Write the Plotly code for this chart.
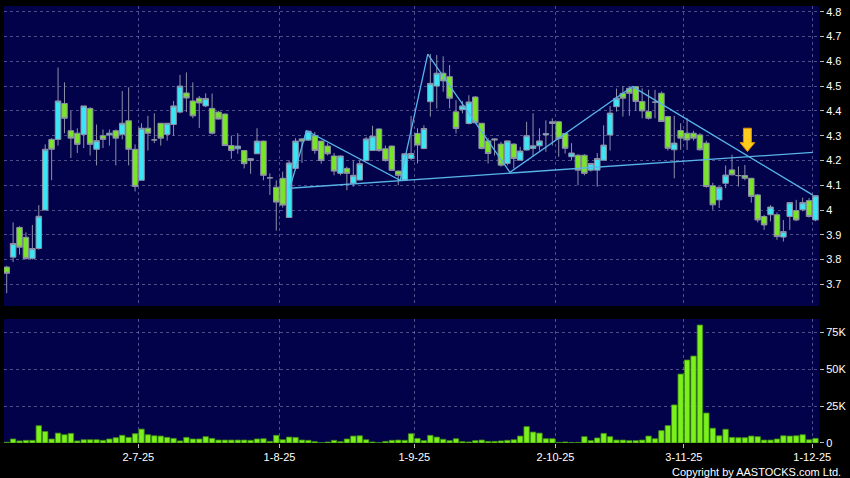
import plotly.graph_objects as go

# ---------------- data (trading-day index 0 = 2 Jun 2025) ----------------
opens = [3.77, 3.81, 3.93, 3.89, 3.805, 3.845, 4.00, 4.285, 4.285, 4.43,
         4.32, 4.31, 4.305, 4.41, 4.245, 4.30, 4.303, 4.32, 4.305, 4.36,
         4.245, 4.12, 4.33, 4.283, 4.35, 4.305, 4.345, 4.395, 4.472, 4.44,
         4.451, 4.42, 4.41, 4.395, 4.387, 4.26, 4.247, 4.24, 4.20, 4.227,
         4.278, 4.13, 4.092, 4.128, 3.97, 4.168, 4.287, 4.282, 4.30, 4.278,
         4.258, 4.218, 4.148, 4.168, 4.108, 4.121, 4.20, 4.24, 4.327, 4.247,
         4.258, 4.157, 4.121, 4.208, 4.309, 4.248, 4.437, 4.50, 4.552, 4.538,
         4.396, 4.405, 4.349, 4.456, 4.35, 4.279, 4.287, 4.266, 4.188, 4.266,
         4.201, 4.242, 4.248, 4.259, 4.303, 4.349, 4.356, 4.309, 4.215, 4.221,
         4.221, 4.161, 4.161, 4.201, 4.303, 4.417, 4.471, 4.491, 4.498, 4.438,
         4.397, 4.435, 4.471, 4.377, 4.243, 4.321, 4.31, 4.31, 4.303, 4.27,
         4.098, 4.041, 4.108, 4.162, 4.139, 4.139, 4.128, 4.061, 3.974, 3.981,
         3.981, 3.891, 3.974, 3.998, 4.001, 4.038, 3.96]
highs = [3.775, 3.95, 3.935, 3.91, 3.94, 4.02, 4.265, 4.29, 4.575, 4.515,
         4.40, 4.33, 4.42, 4.415, 4.345, 4.325, 4.325, 4.325, 4.48, 4.495,
         4.265, 4.35, 4.38, 4.39, 4.35, 4.35, 4.44, 4.545, 4.555, 4.515,
         4.46, 4.471, 4.47, 4.40, 4.39, 4.30, 4.31, 4.24, 4.21, 4.33,
         4.28, 4.148, 4.12, 4.155, 4.20, 4.29, 4.29, 4.32, 4.315, 4.28,
         4.27, 4.23, 4.22, 4.175, 4.20, 4.20, 4.295, 4.34, 4.33, 4.26,
         4.26, 4.16, 4.23, 4.38, 4.33, 4.342, 4.63, 4.625, 4.62, 4.585,
         4.443, 4.44, 4.463, 4.46, 4.35, 4.29, 4.29, 4.275, 4.28, 4.27,
         4.255, 4.356, 4.39, 4.33, 4.362, 4.37, 4.36, 4.31, 4.27, 4.225,
         4.225, 4.19, 4.23, 4.342, 4.42, 4.49, 4.50, 4.498, 4.50, 4.491,
         4.485, 4.485, 4.478, 4.38, 4.38, 4.35, 4.37, 4.32, 4.31, 4.28,
         4.11, 4.095, 4.18, 4.223, 4.176, 4.182, 4.13, 4.065, 3.98, 4.02,
         3.99, 3.96, 4.03, 4.041, 4.05, 4.048, 4.06]
lows = [3.665, 3.79, 3.82, 3.80, 3.80, 3.84, 4.00, 4.12, 4.26, 4.31,
        4.21, 4.23, 4.25, 4.22, 4.18, 4.25, 4.26, 4.18, 4.285, 4.18,
        4.075, 4.12, 4.24, 4.27, 4.26, 4.28, 4.30, 4.39, 4.395, 4.37,
        4.331, 4.415, 4.305, 4.365, 4.26, 4.207, 4.227, 4.168, 4.146, 4.227,
        4.12, 4.061, 3.917, 4.01, 3.97, 4.16, 4.19, 4.28, 4.227, 4.187,
        4.22, 4.14, 4.14, 4.08, 4.094, 4.12, 4.20, 4.24, 4.235, 4.195,
        4.16, 4.10, 4.12, 4.20, 4.188, 4.245, 4.377, 4.41, 4.477, 4.41,
        4.309, 4.39, 4.345, 4.35, 4.245, 4.188, 4.22, 4.175, 4.18, 4.168,
        4.20, 4.24, 4.215, 4.24, 4.235, 4.26, 4.215, 4.228, 4.20, 4.10,
        4.14, 4.155, 4.094, 4.20, 4.24, 4.397, 4.377, 4.38, 4.40, 4.37,
        4.365, 4.37, 4.355, 4.24, 4.128, 4.243, 4.243, 4.28, 4.24, 4.09,
        4.001, 4.008, 4.088, 4.14, 4.095, 4.12, 4.03, 3.95, 3.92, 3.954,
        3.88, 3.873, 3.92, 3.955, 3.995, 3.97, 3.955]
closes = [3.745, 3.865, 3.85, 3.805, 3.845, 3.975, 4.245, 4.245, 4.44, 4.37,
          4.29, 4.265, 4.42, 4.265, 4.28, 4.285, 4.31, 4.29, 4.35, 4.245,
          4.095, 4.33, 4.31, 4.283, 4.29, 4.35, 4.42, 4.50, 4.452, 4.38,
          4.432, 4.45, 4.31, 4.367, 4.26, 4.24, 4.258, 4.187, 4.207, 4.278,
          4.14, 4.13, 4.032, 4.02, 4.19, 4.278, 4.278, 4.318, 4.24, 4.20,
          4.227, 4.157, 4.218, 4.148, 4.14, 4.187, 4.287, 4.298, 4.24, 4.20,
          4.16, 4.14, 4.227, 4.228, 4.262, 4.329, 4.511, 4.552, 4.521, 4.451,
          4.329, 4.42, 4.436, 4.352, 4.248, 4.228, 4.283, 4.181, 4.279, 4.208,
          4.238, 4.30, 4.259, 4.279, 4.308, 4.356, 4.289, 4.249, 4.23, 4.161,
          4.148, 4.188, 4.208, 4.262, 4.391, 4.451, 4.451, 4.471, 4.438, 4.40,
          4.37, 4.435, 4.357, 4.249, 4.27, 4.29, 4.283, 4.29, 4.243, 4.095,
          4.021, 4.092, 4.141, 4.142, 4.139, 4.128, 4.055, 3.96, 3.94, 4.012,
          3.893, 3.913, 4.03, 3.96, 4.03, 3.974, 4.058]
volume_k = [0.5, 2.7, 1.4, 1.8, 1.8, 11.7, 7.8, 2.7, 6.7, 5.6,
            6.5, 1.4, 2.2, 2.2, 2.2, 1.8, 2.7, 3.6, 5.2, 3.8,
            6.3, 9.4, 5.6, 4.9, 4.7, 3.8, 3.1, 1.4, 3.8, 2.7,
            2.7, 4.3, 3.1, 2.0, 2.0, 2.0, 2.0, 2.0, 1.8, 2.7,
            2.9, 1.1, 5.2, 2.2, 4.0, 3.8, 2.0, 1.8, 0.9, 0.2,
            0.7, 1.8, 0.9, 2.7, 4.7, 4.9, 2.2, 0.7, 0.2, 1.1,
            1.8, 2.0, 1.8, 6.3, 3.1, 1.6, 5.2, 4.0, 2.5, 1.6,
            2.9, 0.9, 0.7, 1.6, 2.0, 1.1, 1.1, 1.4, 1.8, 2.2,
            4.7, 11.1, 7.4, 6.7, 2.9, 2.9, 0.4, 0.7, 0.4, 0.4,
            4.3, 1.6, 3.4, 6.5, 4.3, 2.0, 2.0, 1.6, 1.6, 2.0,
            4.7, 2.9, 8.4, 11.8, 25.8, 46.7, 56.2, 58.9, 79.9, 20.3,
            10.0, 4.9, 9.3, 3.8, 3.6, 3.6, 4.7, 4.3, 2.0, 2.0,
            2.7, 4.9, 4.7, 4.9, 5.6, 2.2, 3.1]
day_index = list(range(len(opens)))

date_tick_pos = [20.5, 42.5, 63.5, 85.5, 105.5, 125.5]
date_tick_labels = ["2-7-25", "1-8-25", "1-9-25", "2-10-25", "3-11-25", "1-12-25"]
price_ticks = [3.7, 3.8, 3.9, 4.0, 4.1, 4.2, 4.3, 4.4, 4.5, 4.6, 4.7, 4.8]
price_tick_labels = ["3.7", "3.8", "3.9", "4", "4.1", "4.2", "4.3", "4.4", "4.5", "4.6", "4.7", "4.8"]
vol_ticks = [0, 25, 50, 75]
vol_tick_labels = ["0", "25K", "50K", "75K"]

# drawn pattern (head & shoulders) anchor points: (day index, price)
neckline_x = [44.1, 125.6]
neckline_y = [4.088, 4.233]
pattern_x = [44.1, 46.7, 61.3, 65.6, 78.4, 97.5, 125.6]
pattern_y = [4.088, 4.32, 4.12, 4.629, 4.152, 4.498, 4.06]
arrow_x = 115.4
arrow_top, arrow_neck, arrow_tip = 4.330, 4.272, 4.236

# ---------------- styling ----------------
NAVY = "#02024a"
GRID = "rgba(140,140,190,0.55)"
CYAN = "#3ae6f4"
GREEN = "#7ae428"
WICK = "#8e90a8"
LINE = "#58b4e8"
FONT = "Arial, Liberation Sans, sans-serif"

fig = go.Figure()

fig.add_trace(go.Candlestick(
    x=day_index, open=opens, high=highs, low=lows, close=closes,
    increasing=dict(fillcolor=CYAN, line=dict(color=WICK, width=1)),
    decreasing=dict(fillcolor=GREEN, line=dict(color=WICK, width=1)),
    whiskerwidth=0, xaxis="x", yaxis="y", showlegend=False, hoverinfo="skip",
))

fig.add_trace(go.Scatter(
    x=neckline_x, y=neckline_y, mode="lines",
    line=dict(color=LINE, width=1.3), xaxis="x", yaxis="y",
    showlegend=False, hoverinfo="skip"))
fig.add_trace(go.Scatter(
    x=pattern_x, y=pattern_y, mode="lines",
    line=dict(color=LINE, width=1.3), xaxis="x", yaxis="y",
    showlegend=False, hoverinfo="skip"))

fig.add_trace(go.Bar(
    x=day_index, y=volume_k, width=0.84,
    marker=dict(color="#7cf01c", line=dict(color="#3f8f12", width=0.8)),
    xaxis="x2", yaxis="y2", showlegend=False, hoverinfo="skip"))

hw, hh = 0.62, 1.15
arrow_path = (f"M {arrow_x-hw},{arrow_top} L {arrow_x+hw},{arrow_top} "
              f"L {arrow_x+hw},{arrow_neck} L {arrow_x+hh},{arrow_neck} "
              f"L {arrow_x},{arrow_tip} L {arrow_x-hh},{arrow_neck} "
              f"L {arrow_x-hw},{arrow_neck} Z")
fig.add_shape(type="path", path=arrow_path, xref="x", yref="y",
              fillcolor="#ffcc1e", line=dict(color="#e08c00", width=1))

xrange = [-0.42, 126.55]
common_x = dict(range=xrange, tickvals=date_tick_pos, showgrid=True,
                gridcolor=GRID, griddash="3px,3px", gridwidth=1, zeroline=False,
                showline=False, fixedrange=True)

fig.update_layout(
    width=850, height=478,
    margin=dict(l=4, r=31, t=6, b=35),
    paper_bgcolor="#000000", plot_bgcolor=NAVY,
    font=dict(family=FONT, color="#ffffff", size=11),
    boxgap=0.14, boxgroupgap=0,
    bargap=0,
    xaxis=dict(domain=[0, 1], anchor="y", showticklabels=False, ticks="",
               rangeslider=dict(visible=False), **common_x),
    yaxis=dict(domain=[0.3135, 1], anchor="x", side="right",
               range=[3.613, 4.823], tickvals=price_ticks, ticktext=price_tick_labels,
               ticks="outside", ticklen=4, tickcolor="#bbbbbb",
               showgrid=True, gridcolor=GRID, griddash="3px,3px", zeroline=False,
               tickfont=dict(size=11, color="#ffffff")),
    xaxis2=dict(domain=[0, 1], anchor="y2", ticktext=date_tick_labels,
                ticks="outside", ticklen=4, tickcolor="#bbbbbb",
                tickfont=dict(size=11, color="#ffffff"), **common_x),
    yaxis2=dict(domain=[0, 0.2838], anchor="x2", side="right",
                range=[0, 84], tickvals=vol_ticks, ticktext=vol_tick_labels,
                ticks="outside", ticklen=4, tickcolor="#bbbbbb",
                showgrid=True, gridcolor=GRID, griddash="3px,3px", zeroline=False,
                tickfont=dict(size=11, color="#ffffff")),
)

fig.add_annotation(text="Copyright by AASTOCKS.com Ltd.", xref="paper", yref="paper",
                   x=1.0294, y=-0.066, xanchor="right", yanchor="middle",
                   showarrow=False, font=dict(size=11, color="#ffffff", family=FONT))

fig.write_html("out.html",
               config={"displayModeBar": False, "staticPlot": True},
               post_script="document.body.style.margin='0';document.body.style.overflow='hidden';")
